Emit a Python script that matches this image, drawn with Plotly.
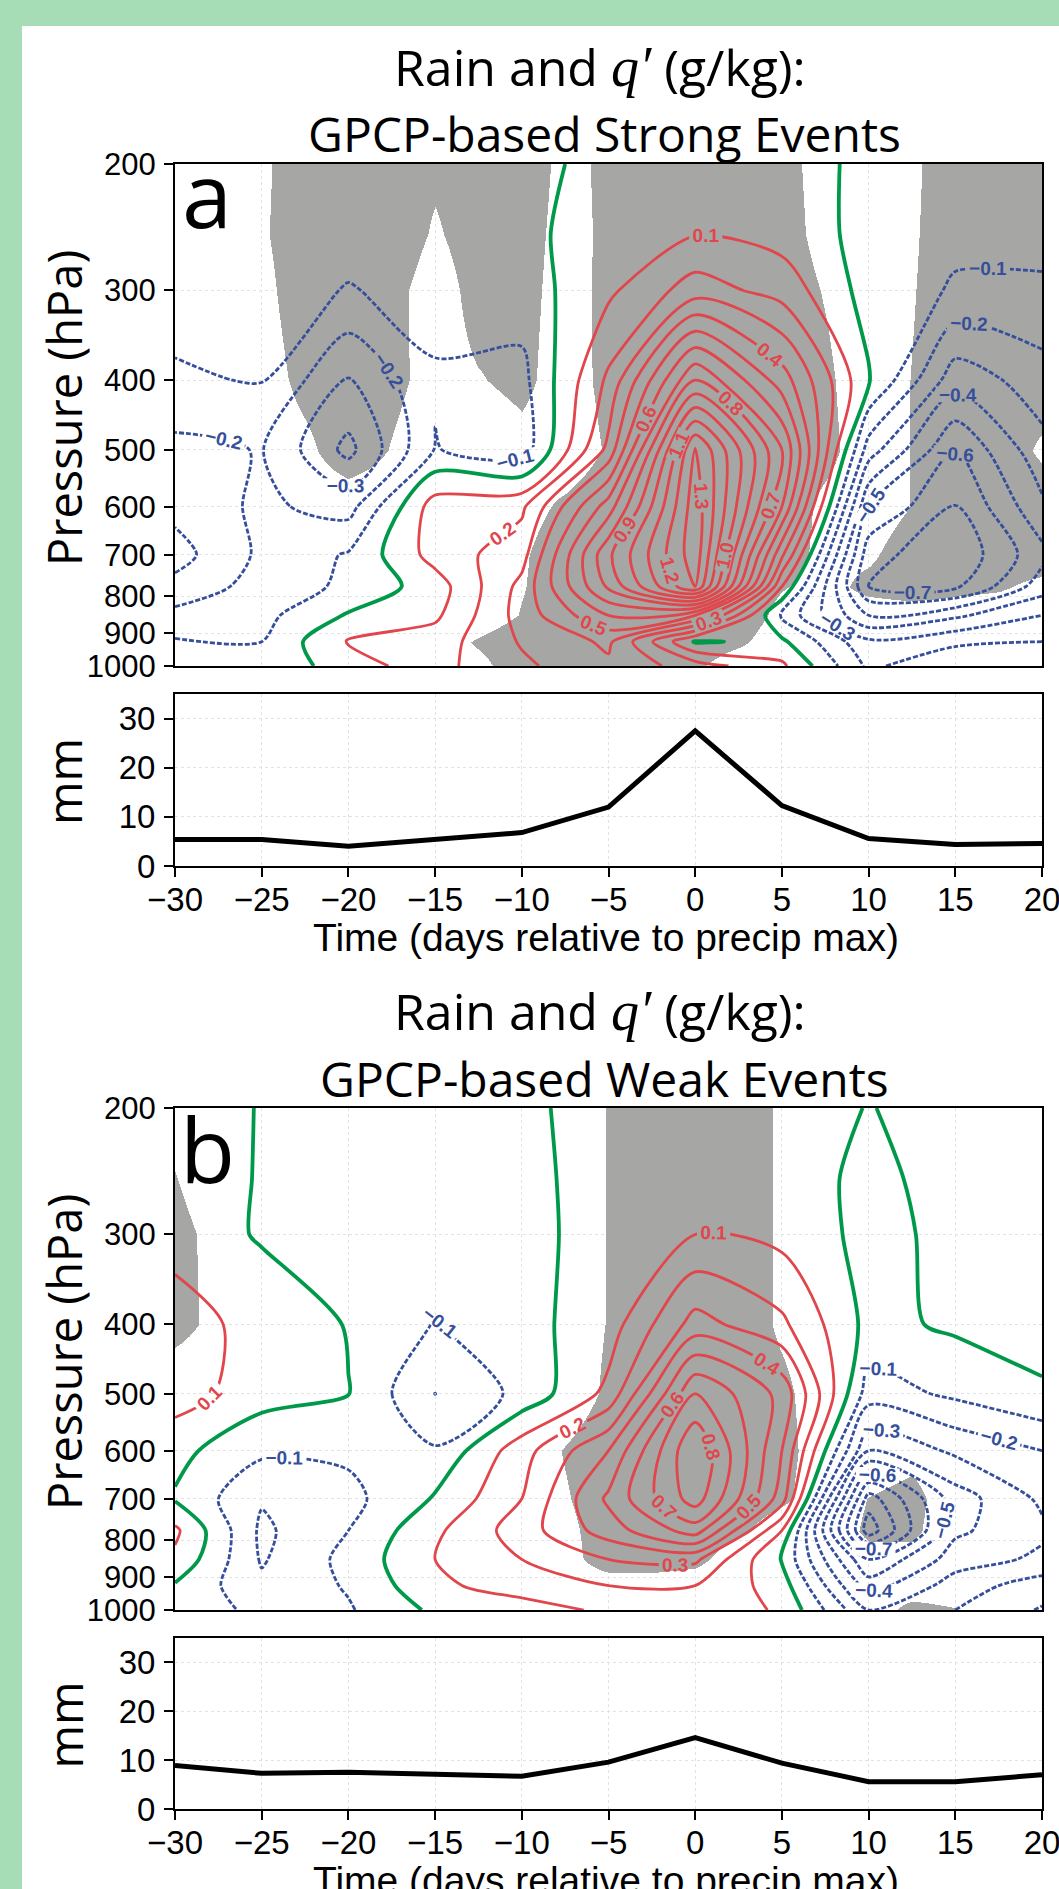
import plotly.graph_objects as go

W, H = 1059, 1889

# ---------------- data ----------------
days = [-30, -25, -20, -15, -10, -5, 0, 5, 10, 15, 20]
days_shade = [-30, -27.5, -25, -22.5, -20, -17.5, -15, -12.5, -10, -7.5, -5,
              -2.5, 0, 2.5, 5, 7.5, 10, 12.5, 15, 17.5, 20]
levels = [1000, 925, 850, 775, 700, 600, 500, 400, 300, 250, 200]

rain_strong = [5.4, 5.4, 4.0, 5.4, 6.8, 12.0, 27.5, 12.3, 5.6, 4.4, 4.6]
rain_weak = [8.9, 7.3, 7.5, 7.0, 6.7, 9.6, 14.6, 9.4, 5.6, 5.6, 7.0]

# q' (g/kg), rows follow `levels`, columns follow `days`
q_strong = [
    [-0.06, -0.06, 0.04, 0.17, 0.28, 0.38, 0.25, 0.12, -0.22, -0.12, -0.13],
    [-0.09, -0.10, 0.11, 0.15, 0.31, 0.42, -0.01, 0.02, -0.28, -0.22, -0.20],
    [-0.17, -0.13, 0.01, 0.08, 0.34, 0.60, 0.50, -0.12, -0.50, -0.42, -0.30],
    [-0.27, -0.16, -0.08, 0.05, 0.33, 0.82, 1.30, 0.10, -0.70, -0.72, -0.45],
    [-0.34, -0.18, -0.09, 0.14, 0.26, 0.88, 1.36, 0.32, -0.66, -0.78, -0.53],
    [-0.27, -0.18, -0.24, 0.15, 0.18, 0.65, 1.36, 0.60, -0.50, -0.71, -0.42],
    [-0.23, -0.195, -0.43, -0.095, -0.16, 0.33, 1.31, 0.70, -0.25, -0.60, -0.33],
    [-0.11, -0.095, -0.305, -0.11, -0.13, 0.22, 0.80, 0.45, 0.01, -0.36, -0.25],
    [-0.07, -0.06, -0.105, -0.07, -0.05, 0.08, 0.25, 0.16, -0.04, -0.11, -0.105],
    [-0.05, -0.05, -0.07, -0.06, -0.02, 0.04, 0.094, 0.06, -0.03, -0.08, -0.09],
    [-0.03, -0.03, -0.05, -0.05, -0.02, 0.02, 0.06, 0.04, -0.02, -0.06, -0.07],
]
q_weak = [
    [-0.05, -0.12, -0.11, 0.02, 0.05, 0.12, 0.15, 0.09, -0.30, -0.20, -0.09],
    [-0.01, -0.18, -0.09, 0.077, 0.15, 0.20, 0.20, 0.05, -0.45, -0.25, -0.15],
    [0.08, -0.21, -0.07, 0.10, 0.20, 0.30, 0.32, -0.01, -0.60, -0.35, -0.28],
    [0.12, -0.22, -0.10, 0.08, 0.25, 0.45, 0.65, 0.10, -0.96, -0.42, -0.32],
    [-0.01, -0.19, -0.13, 0.01, 0.20, 0.52, 0.85, 0.35, -0.85, -0.45, -0.28],
    [0.03, -0.08, -0.08, -0.09, 0.16, 0.40, 0.90, 0.40, -0.40, -0.28, -0.20],
    [0.15, 0.04, 0.002, -0.201, -0.072, 0.128, 0.70, 0.47, -0.15, -0.08, -0.01],
    [0.15, 0.06, -0.005, -0.105, -0.03, 0.05, 0.34, 0.22, -0.03, 0.017, 0.03],
    [0.06, -0.01, -0.05, -0.07, -0.03, 0.04, 0.10, 0.07, -0.03, 0.025, 0.04],
    [0.04, -0.005, -0.05, -0.06, -0.02, 0.03, 0.06, 0.04, -0.02, 0.03, 0.04],
    [0.03, -0.003, -0.04, -0.05, -0.02, 0.04, 0.05, 0.04, -0.003, 0.03, 0.04],
]

# shading indicator (>0 shaded), rows follow `levels`, columns follow `days_shade`
shade_strong = [
    [-1, -1, -1, -1, -1, -1, -1, -0.5, 1, 1, 1, 1, 0.3, -1, -1, -1, -1, -1, -1, -1, -1],
    [-1, -1, -1, -1, -1, -1, -1, 0.2, 1, 1, 1, 1, 1, 0.3, -1, -1, -1, -1, -1, -1, -1],
    [-1, -1, -1, -1, -1, -1, -1, -1, 0.1, 1, 1, 1, 1, 1, -0.5, -1, -1, -1, -1, -1, -1],
    [-1, -1, -1, -1, -1, -1, -1, -1, -0.1, 1, 1, 1, 1, 1, 0.1, -0.6, 0.5, 1, 0.5, 0.2, -0.5],
    [-1, -1, -1, -1, -1, -1, -1, -1, -0.2, 1, 1, 1, 1, 1, 0.8, -0.5, -0.3, 1, 1, 1, 1],
    [-1, -1, -1, -1, -1, -1, -1, -1, -0.6, 0.3, 1, 1, 1, 1, 1, -0.4, -1, 0.05, 1, 1, 1],
    [-1, -1, -1, -0.4, 1, -0.1, -1, -1, -0.5, -1, 0.2, 1, 1, 1, 1, 0.5, -1, 0.05, 1, 1, -0.3],
    [-1, -1, -0.8, 0.5, 1, 0.4, -0.6, -0.1, 0.4, -0.8, 0.5, 1, 1, 1, 1, 0.3, -1, 0.05, 1, 1, 1],
    [-1, -1, -0.5, 1, 1, 0.5, -0.8, 0.6, 0.5, -0.6, 0.4, 1, 1, 1, 0.8, -0.1, -1, -0.1, 1, 1, 1],
    [-1, -1, -0.2, 1, 1, 1, -0.2, 0.8, 0.6, -0.5, 0.3, 1, 1, 1, 0.6, -0.5, -1, -0.2, 1, 1, 1],
    [-1, -1, -0.3, 1, 1, 0.8, 0.3, 0.8, 0.8, -0.4, 0.3, 1, 1, 1, 0.5, -0.6, -1, -0.3, 1, 1, 1],
]
shade_weak = [
    [-1, -1, -1, -1, -1, -1, -1, -1, -1, -1, -1, -1, -1, -1, -1, -1, -1, 0.6, 0.1, -1, -1],
    [-1, -1, -1, -1, -1, -1, -1, -1, -1, -1, -1, -1, -1, -1, -1, -1, -1, -1, -1, -1, -1],
    [-1, -1, -1, -1, -1, -1, -1, -1, -1, -0.7, 1, 1, 0.5, -1, -1, -1, -0.5, -0.5, -1, -1, -1],
    [-1, -1, -1, -1, -1, -1, -1, -1, -1, -0.5, 1, 1, 1, 0.3, -1, -1, 0.3, 0.3, -1, -1, -1],
    [-1, -1, -1, -1, -1, -1, -1, -1, -1, -0.15, 1, 1, 1, 1, 0.3, -1, 0.05, 0.5, -1, -1, -1],
    [-1, -1, -1, -1, -1, -1, -1, -1, -1, 0.1, 1, 1, 1, 1, 0.6, -1, -1, -0.5, -1, -1, -1],
    [-1, -1, -1, -1, -1, -1, -1, -1, -1, -1, 0.32, 1, 1, 1, 0.4, -1, -1, -1, -1, -1, -1],
    [0.5, -0.4, -1, -1, -1, -1, -1, -1, -1, -1, 0.1, 1, 1, 1, -0.3, -1, -1, -1, -1, -1, -1],
    [0.5, -0.5, -1, -1, -1, -1, -1, -1, -1, -1, 0.1, 1, 1, 1, -0.3, -1, -1, -1, -1, -1, -1],
    [0.05, -1, -1, -1, -1, -1, -1, -1, -1, -1, 0.1, 1, 1, 1, -0.3, -1, -1, -1, -1, -1, -1],
    [-0.5, -1, -1, -1, -1, -1, -1, -1, -1, -1, 0.1, 1, 1, 1, -0.3, -1, -1, -1, -1, -1, -1],
]

pressure_ticks = [200, 300, 400, 500, 600, 700, 800, 900, 1000]
day_ticks = [-30, -25, -20, -15, -10, -5, 0, 5, 10, 15, 20]
day_ticktext = ["\u221230", "\u221225", "\u221220", "\u221215", "\u221210", "\u22125",
                "0", "5", "10", "15", "20"]
rain_ticks = [0, 10, 20, 30]

# ---------------- styling ----------------
GREEN_BG = "#a7ddb6"
SHADE = "#a6a7a4"
RED = "#e0464b"
BLUE = "#364f9b"
ZERO = "#00994a"
SANS = "Open Sans, Noto Sans, sans-serif"
NARROW = "Liberation Sans, Arial, sans-serif"
CLEAR = "rgba(255,255,255,0)"


def fx(px):
    return px / W


def fy(py):
    return 1 - py / H


XDOM = [fx(175), fx(1042)]
panels = {
    "a": dict(ctop=164, cbot=666, rtop=694, rbot=866, letter_y=193),
    "b": dict(ctop=1108, cbot=1610, rtop=1638, rbot=1809, letter_y=1148),
}

fig = go.Figure()


def add_contours(q, shade, xa, ya):
    # grey where the (bilinearly interpolated) indicator is positive
    fig.add_trace(go.Heatmap(
        x=days_shade, y=levels, z=shade, xaxis=xa, yaxis=ya, zsmooth="best",
        zmin=-1, zmax=1,
        colorscale=[[0, CLEAR], [0.5, CLEAR], [0.5, SHADE], [1, SHADE]],
        showscale=False, hoverinfo="skip"))
    fig.add_trace(go.Contour(
        x=days, y=levels, z=q, xaxis=xa, yaxis=ya,
        contours=dict(start=0.1, end=1.45, size=0.1, coloring="none",
                      showlabels=True,
                      labelfont=dict(size=19, color=RED, family=NARROW, weight="bold"),
                      labelformat=".1f"),
        line=dict(color=RED, width=2.8, smoothing=0.8),
        showscale=False, hoverinfo="skip"))
    fig.add_trace(go.Contour(
        x=days, y=levels, z=q, xaxis=xa, yaxis=ya,
        contours=dict(start=-1.0, end=-0.1, size=0.1, coloring="none",
                      showlabels=True,
                      labelfont=dict(size=19, color=BLUE, family=NARROW, weight="bold"),
                      labelformat=".1f"),
        line=dict(color=BLUE, width=2.8, dash="5px,2px", smoothing=0.8),
        showscale=False, hoverinfo="skip"))
    fig.add_trace(go.Contour(
        x=days, y=levels, z=q, xaxis=xa, yaxis=ya,
        contours=dict(start=0, end=0, size=0.1, coloring="none"),
        line=dict(color=ZERO, width=3.8, smoothing=0.8),
        showscale=False, hoverinfo="skip"))


add_contours(q_strong, shade_strong, "x", "y")
fig.add_trace(go.Scatter(x=days, y=rain_strong, xaxis="x2", yaxis="y2", mode="lines",
                         line=dict(color="black", width=5), hoverinfo="skip"))
add_contours(q_weak, shade_weak, "x3", "y3")
fig.add_trace(go.Scatter(x=days, y=rain_weak, xaxis="x4", yaxis="y4", mode="lines",
                         line=dict(color="black", width=5), hoverinfo="skip"))

grid = dict(showgrid=True, gridcolor="#e2e2e2", griddash="dot", gridwidth=1)
box = dict(showline=True, linecolor="black", linewidth=2, mirror=True, zeroline=False,
           automargin=False)
tickf = dict(family=NARROW, size=33, color="black")
ptickf = dict(family=NARROW, size=31, color="black")

layout_axes = {}
for key, (xn, yn, rxn, ryn) in {"a": ("xaxis", "yaxis", "xaxis2", "yaxis2"),
                               "b": ("xaxis3", "yaxis3", "xaxis4", "yaxis4")}.items():
    p = panels[key]
    xa_id = "x" if xn == "xaxis" else "x3"
    ya_id = "y" if yn == "yaxis" else "y3"
    rxa_id = "x2" if rxn == "xaxis2" else "x4"
    rya_id = "y2" if ryn == "yaxis2" else "y4"
    layout_axes[xn] = dict(domain=XDOM, anchor=ya_id, range=[-30, 20], tickvals=day_ticks,
                           showticklabels=False, ticks="", layer="above traces",
                           **grid, **box)
    layout_axes[yn] = dict(domain=[fy(p["cbot"]), fy(p["ctop"])], anchor=xa_id, type="log",
                           range=[3, 2.30103], tickvals=pressure_ticks,
                           ticktext=[str(v) for v in pressure_ticks],
                           ticks="outside", ticklen=9, tickwidth=2, tickcolor="black",
                           ticklabelstandoff=2, tickfont=ptickf, layer="above traces",
                           **grid, **box)
    layout_axes[rxn] = dict(domain=XDOM, anchor=rya_id, range=[-30, 20], tickvals=day_ticks,
                            ticktext=day_ticktext, ticks="outside", ticklen=9, tickwidth=2,
                            tickcolor="black", tickfont=tickf, ticklabeloverflow="allow",
                            ticklabelstandoff=-6, **grid, **box)
    layout_axes[ryn] = dict(domain=[fy(p["rbot"]), fy(p["rtop"])], anchor=rxa_id,
                            range=[0, 35], tickvals=rain_ticks, ticks="outside", ticklen=9,
                            tickwidth=2, tickcolor="black", ticklabelstandoff=2,
                            tickfont=tickf, **grid, **box)

qsym = ("<span style=\"font-family:'Liberation Serif', 'DejaVu Serif', serif;"
        "font-size:56px\"><i>q\u2032</i></span>")
annotations = []


def ann(text, x, y, size, family=SANS, angle=0, xanchor="center"):
    annotations.append(dict(text=text, x=fx(x), y=fy(y), xref="paper", yref="paper",
                            showarrow=False, textangle=angle, xanchor=xanchor,
                            yanchor="middle", font=dict(size=size, family=family,
                                                        color="black")))


for key, subtitle in (("a", "GPCP-based Strong Events"), ("b", "GPCP-based Weak Events")):
    p = panels[key]
    off = p["ctop"] - 164
    ann("Rain and " + qsym + " (g/kg):", 600, 67 + off, 50)
    ann(subtitle, 604, 134 + off, 48)
    ann(key, 207, p["letter_y"], 90)
    ann("Pressure (hPa)", 64, 408 + off, 47, angle=-90)
    ann("mm", 64, (p["rtop"] + p["rbot"]) / 2 + 2, 47, angle=-90)
    ann("Time (days relative to precip max)", 606, p["rbot"] + 71, 39, family=NARROW)

fig.update_layout(
    width=W, height=H, margin=dict(l=0, r=0, t=0, b=0, autoexpand=False),
    paper_bgcolor=GREEN_BG, plot_bgcolor="white", showlegend=False,
    shapes=[dict(type="rect", xref="paper", yref="paper", x0=fx(22), x1=1, y0=0,
                 y1=fy(26), fillcolor="white", line=dict(width=0), layer="below")],
    annotations=annotations,
    **layout_axes,
)

fig.write_html("out.html", config={"displayModeBar": False},
               post_script="document.body.style.margin='0px';")
